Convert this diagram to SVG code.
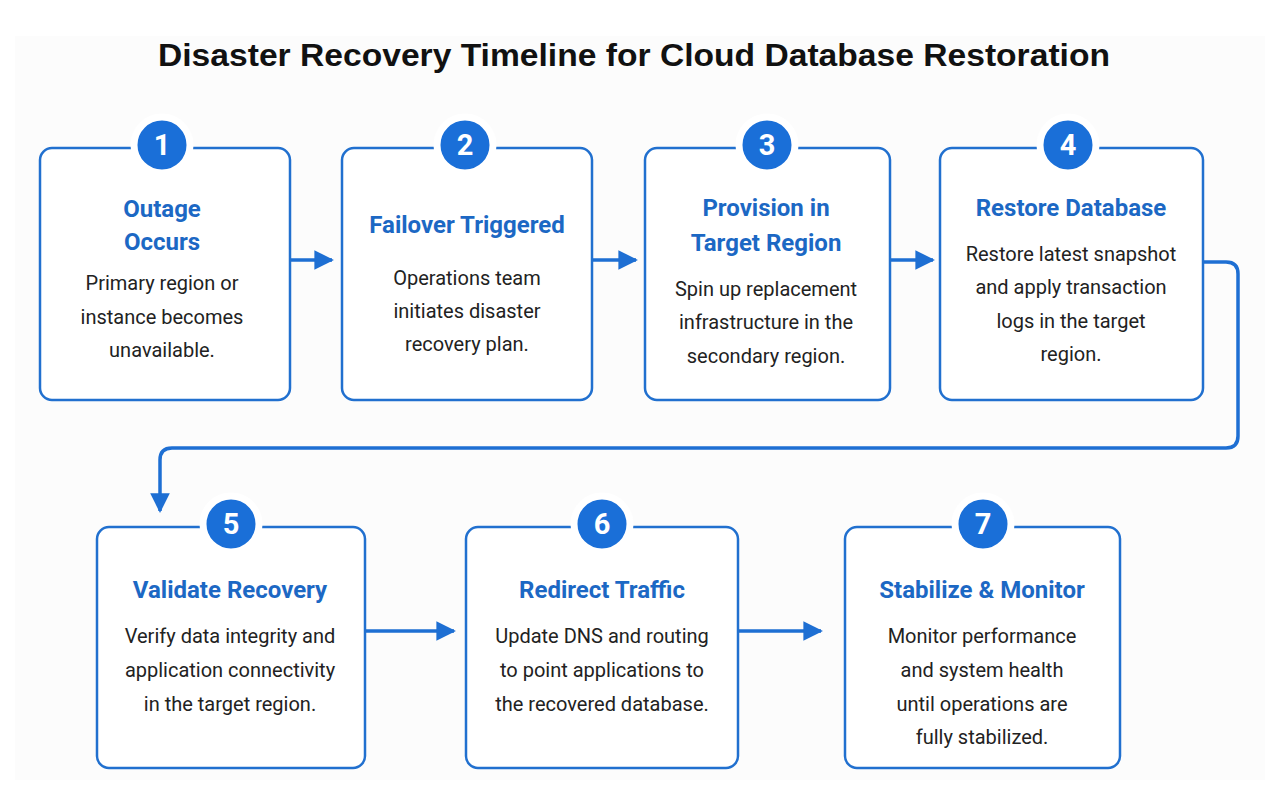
<svg xmlns="http://www.w3.org/2000/svg" width="1280" height="808" viewBox="0 0 1280 808">
<defs>
<marker id="ah" viewBox="0 0 10 10" refX="9" refY="5" markerWidth="5.6" markerHeight="5.6" markerUnits="strokeWidth" orient="auto">
<path d="M0,0 L10,5 L0,10 z" fill="#1e6fd3"/>
</marker>
<style>
.box{fill:#ffffff;stroke:#2170cf;stroke-width:2.5}
.badge{fill:#1a6fd8;stroke:#ffffff;stroke-width:7}
.num{font-family:Roboto,"Liberation Sans",sans-serif;font-weight:bold;font-size:29px;fill:#ffffff;text-anchor:middle}
.ttl{font-family:Roboto,"Liberation Sans",sans-serif;font-weight:bold;font-size:24px;fill:#1c68c4;text-anchor:middle}
.body{font-family:Roboto,"Liberation Sans",sans-serif;font-size:20px;fill:#222222;text-anchor:middle}
.conn{fill:none;stroke:#1e6fd3;stroke-width:3.5}
</style>
</defs>
<rect x="0" y="0" width="1280" height="808" fill="#ffffff"/>
<rect x="15" y="36" width="1250" height="744" fill="#fcfcfc"/>
<text x="634" y="66" font-family="'Liberation Sans',Arial,sans-serif" font-weight="bold" font-size="31" fill="#111111" text-anchor="middle" textLength="952" lengthAdjust="spacingAndGlyphs">Disaster Recovery Timeline for Cloud Database Restoration</text>

<g id="connectors">
<path class="conn" d="M290,260 H332" marker-end="url(#ah)"/>
<path class="conn" d="M592,260 H636" marker-end="url(#ah)"/>
<path class="conn" d="M890,260 H933" marker-end="url(#ah)"/>
<path class="conn" d="M1203,262 H1226 Q1238,262 1238,274 V436 Q1238,448 1226,448 H172 Q160,448 160,460 V511" marker-end="url(#ah)"/>
<path class="conn" d="M365,631 H454" marker-end="url(#ah)"/>
<path class="conn" d="M738,631 H821" marker-end="url(#ah)"/>
</g>

<g id="node1">
<rect class="box" x="40" y="148" width="250" height="252" rx="12"/>
<circle class="badge" cx="162" cy="145" r="28"/>
<text class="num" x="162" y="155">1</text>
<text class="ttl" x="162" y="217">Outage</text>
<text class="ttl" x="162" y="250">Occurs</text>
<text class="body" x="162" y="290">Primary region or</text>
<text class="body" x="162" y="324">instance becomes</text>
<text class="body" x="162" y="357">unavailable.</text>
</g>

<g id="node2">
<rect class="box" x="342" y="148" width="250" height="252" rx="12"/>
<circle class="badge" cx="465" cy="145" r="28"/>
<text class="num" x="465" y="155">2</text>
<text class="ttl" x="467" y="233">Failover Triggered</text>
<text class="body" x="467" y="285">Operations team</text>
<text class="body" x="467" y="318">initiates disaster</text>
<text class="body" x="467" y="351">recovery plan.</text>
</g>

<g id="node3">
<rect class="box" x="645" y="148" width="245" height="252" rx="12"/>
<circle class="badge" cx="767" cy="145" r="28"/>
<text class="num" x="767" y="155">3</text>
<text class="ttl" x="766" y="216">Provision in</text>
<text class="ttl" x="766" y="251">Target Region</text>
<text class="body" x="766" y="296">Spin up replacement</text>
<text class="body" x="766" y="329">infrastructure in the</text>
<text class="body" x="766" y="363">secondary region.</text>
</g>

<g id="node4">
<rect class="box" x="940" y="148" width="263" height="252" rx="12"/>
<circle class="badge" cx="1068" cy="145" r="28"/>
<text class="num" x="1068" y="155">4</text>
<text class="ttl" x="1071" y="216">Restore Database</text>
<text class="body" x="1071" y="261">Restore latest snapshot</text>
<text class="body" x="1071" y="294">and apply transaction</text>
<text class="body" x="1071" y="328">logs in the target</text>
<text class="body" x="1071" y="361">region.</text>
</g>

<g id="node5">
<rect class="box" x="97" y="527" width="268" height="241" rx="12"/>
<circle class="badge" cx="231" cy="524" r="28"/>
<text class="num" x="231" y="534">5</text>
<text class="ttl" x="230" y="598">Validate Recovery</text>
<text class="body" x="230" y="643">Verify data integrity and</text>
<text class="body" x="230" y="677">application connectivity</text>
<text class="body" x="230" y="711">in the target region.</text>
</g>

<g id="node6">
<rect class="box" x="466" y="527" width="272" height="241" rx="12"/>
<circle class="badge" cx="602" cy="524" r="28"/>
<text class="num" x="602" y="534">6</text>
<text class="ttl" x="602" y="598">Redirect Traffic</text>
<text class="body" x="602" y="643">Update DNS and routing</text>
<text class="body" x="602" y="677">to point applications to</text>
<text class="body" x="602" y="711">the recovered database.</text>
</g>

<g id="node7">
<rect class="box" x="845" y="527" width="275" height="241" rx="12"/>
<circle class="badge" cx="983" cy="524" r="28"/>
<text class="num" x="983" y="534">7</text>
<text class="ttl" x="982" y="598">Stabilize &amp; Monitor</text>
<text class="body" x="982" y="643">Monitor performance</text>
<text class="body" x="982" y="677">and system health</text>
<text class="body" x="982" y="711">until operations are</text>
<text class="body" x="982" y="744">fully stabilized.</text>
</g>
</svg>
